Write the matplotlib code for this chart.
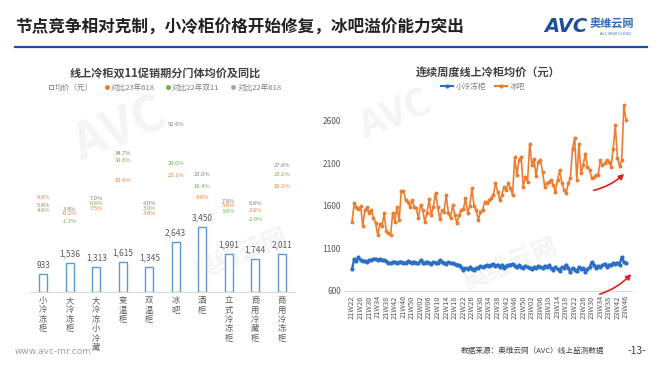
import matplotlib
matplotlib.use("Agg")
import matplotlib.pyplot as plt
from matplotlib.lines import Line2D
import numpy as np

plt.rcParams['font.family'] = ['Noto Sans CJK SC', 'DejaVu Sans']

# ---------------- data ----------------
categories = ['小冷冻柜', '大冷冻柜', '大冷冻小冷藏', '变温柜', '双温柜', '冰吧', '酒柜',
              '立式冷冻柜', '商用冷藏柜', '商用冷冻柜']
avg_price = [933, 1536, 1313, 1615, 1345, 2643, 3450, 1991, 1744, 2011]
pct_vs_23_618 = [9.8, -0.2, 7.5, 19.6, 3.9, 22.1, 9.8, 5.8, 2.8, 16.2]
pct_vs_22_1111 = [4.8, -1.7, 6.8, 30.6, 3.9, 29.0, 16.4, 3.6, -2.0, 23.1]
pct_vs_22_618 = [5.8, 3.4, 7.0, 34.7, 4.0, 50.6, 23.0, 7.8, 6.8, 27.8]

small_freezer = [
    860, 975, 950, 1000, 960, 955, 950, 945, 965, 960, 975, 980, 970, 975, 965, 960,
    950, 935, 925, 945, 940, 930, 940, 945, 935, 930, 950, 940, 935, 945, 930,
    925, 960, 935, 930, 945, 935, 920, 940, 935, 930, 960, 940, 935, 920, 940, 930,
    925, 915, 910, 900, 880, 850, 870, 860, 880, 860, 845, 870, 875, 890, 880, 895,
    900, 890, 910, 915, 895, 910, 880, 905, 870, 895, 900, 910, 920, 890, 880, 900,
    885, 870, 895, 880,
    875, 860, 880, 870, 890, 885, 870, 895, 880, 900, 870, 850, 880, 860, 840, 880,
    870, 910, 870, 820, 870, 850, 830, 880, 860, 870, 820, 860, 880, 940, 900, 870,
    890, 880, 900, 920, 880, 910, 900, 930, 920, 935, 910, 1000, 940, 930]
ice_bar = [
    1416, 1631, 1592, 1560, 1600, 1366, 1553, 1584, 1514, 1550,
    1456, 1400, 1260, 1390, 1366, 1514, 1300, 1280, 1260, 1522,
    1416, 1592, 1436, 1780, 1780, 1670, 1650, 1592, 1670, 1592,
    1573, 1456, 1611, 1553, 1416, 1514, 1678, 1495, 1592, 1756,
    1592, 1444, 1553, 1534, 1729, 1514, 1456, 1611, 1495, 1397,
    1495, 1553, 1561, 1690, 1522, 1600, 1807, 1600, 1553, 1436,
    1534, 1553, 1650, 1631, 1670, 1690, 1729, 1866, 1768, 1670,
    1729, 1827, 1788, 1873, 1807, 1729, 2178, 1963, 2140, 2178,
    1827, 1944, 1885, 2334, 2088, 2148, 1952, 2120, 2147, 2002,
    1827, 1866, 1885, 1905, 1846, 1768, 1905, 2022, 1873, 1788,
    1749, 1866, 1924, 2276, 2405, 1905, 2334, 1983, 2081, 2217,
    2061, 2022, 1924, 1936, 1963, 1963, 2139, 2081, 2100, 2139,
    2120, 2061, 2276, 2549, 2159, 2069, 2139, 2783, 2608]
week_ticks = ['21W22', '21W26', '21W30', '21W34', '21W38', '21W42', '21W46', '21W50',
              '22W02', '22W06', '22W10', '22W14', '22W18', '22W22', '22W26', '22W30',
              '22W34', '22W38', '22W42', '22W46', '22W50', '23W02', '23W06', '23W10',
              '23W14', '23W18', '23W22', '23W26', '23W30', '23W34', '23W38', '23W42',
              '23W46']
y_ticks = [600, 1100, 1600, 2100, 2600]

# ---------------- figure ----------------
W, H = 660, 372
fig = plt.figure(figsize=(W / 100, H / 100), dpi=100)
fig.patch.set_facecolor('white')


def rect(l, t, r, b):
    return [l / W, 1 - b / H, (r - l) / W, (b - t) / H]


def fp(x, y):
    return (x / W, 1 - y / H)


BLUE = '#5B9BD5'
ORANGE = '#ED7D31'
GREEN = '#70AD47'
GREY = '#A5A5A5'
TXT = '#595959'
DARKBLUE = '#1F4E9A'
LINEBLUE = '#2A6EC6'

# faint watermarks (behind the charts)
for (wx, wy, s, fs) in [(120, 130, 'AVC', 36), (240, 255, '奥维云网', 18),
                        (395, 115, 'AVC', 28), (510, 265, '奥维云网', 18)]:
    fig.text(*fp(wx, wy), s, fontsize=fs, fontweight='bold', style='italic',
             color='#F4F4F4', rotation=22, ha='center', va='center', zorder=-5)

# header
fig.text(*fp(15, 28), '节点竞争相对克制，小冷柜价格开始修复，冰吧溢价能力突出',
         fontsize=12, fontweight='bold', color='#222222', va='center', ha='left')
fig.add_artist(Line2D([15 / W, 647 / W], [1 - 47 / H, 1 - 47 / H], color=DARKBLUE, lw=1.6))
fig.text(*fp(544, 27), 'AVC', fontsize=14, fontweight='bold', style='italic',
         color=DARKBLUE, va='center', ha='left', family='DejaVu Sans')
fig.text(*fp(590, 24), '奥维云网', fontsize=8, fontweight='bold', color='#2F6DB5',
         va='center', ha='left')
fig.text(*fp(600, 34), 'ALL VIEW CLOUD', fontsize=2.6, color='#2F6DB5',
         va='center', ha='left', family='DejaVu Sans')

# footer
fig.text(*fp(15, 351), 'www.avc-mr.com', fontsize=6.5, color='#A0A0A0', va='center',
         ha='left', family='DejaVu Sans')
fig.text(*fp(604, 351), '数据来源：奥维云网（AVC）线上监测数据', fontsize=5.5, color='#404040',
         va='center', ha='right')
fig.text(*fp(646, 351), '-13-', fontsize=7.5, color='#404040', va='center', ha='right')

# ---------------- left chart ----------------
axL = fig.add_axes(rect(30, 100, 295, 292))
axL.set_zorder(2)
x = np.arange(len(categories))
axL.bar(x, avg_price, width=0.3, facecolor='white', edgecolor=BLUE, linewidth=1.0)
axL.set_xlim(-0.5, len(categories) - 0.5)
axL.set_ylim(0, 10190)
for i, v in enumerate(avg_price):
    axL.text(i, v + 250, f'{v:,}', ha='center', va='bottom', fontsize=6, color=TXT)
for s in ['top', 'right', 'left']:
    axL.spines[s].set_visible(False)
axL.spines['bottom'].set_color('#D9D9D9')
axL.set_yticks([])
axL.set_xticks(x)
axL.set_xticklabels(['\n'.join(c) for c in categories], fontsize=6, color=TXT,
                    linespacing=1.05, va='top')
axL.tick_params(axis='x', length=0, pad=3)
axL.patch.set_alpha(0)

axP = axL.twinx()
axP.set_zorder(3)
axP.set_ylim(-42.7, 64.5)
axP.axis('off')
# small vertical label nudges (points) to keep close labels legible
nudges = {('g', 0): -2.5, ('o', 1): 2.0, ('g', 1): -2.0,
          ('y', 2): 3.0, ('o', 2): -4.5,
          ('y', 4): 3.5, ('o', 4): -3.5, ('g', 7): -2.0}
for key, series, col in [('o', pct_vs_23_618, ORANGE), ('g', pct_vs_22_1111, GREEN),
                         ('y', pct_vs_22_618, '#7F7F7F')]:
    for i, p in enumerate(series):
        axP.annotate(f'{p:.1f}%', (i, p), xytext=(0, nudges.get((key, i), 0)),
                     textcoords='offset points', ha='center', va='center',
                     fontsize=4.2, color=col)

fig.text(*fp(165, 73), '线上冷柜双11促销期分门体均价及同比', fontsize=8, fontweight='bold',
         color='#404040', ha='center', va='center')
handlesL = [
    Line2D([], [], ls='none', marker='s', mfc='white', mec=BLUE, ms=3.5, mew=0.7),
    Line2D([], [], ls='none', marker='o', color=ORANGE, ms=2.5),
    Line2D([], [], ls='none', marker='o', color=GREEN, ms=2.5),
    Line2D([], [], ls='none', marker='o', color=GREY, ms=2.5),
]
legL = fig.legend(handlesL, ['均价（元）', '对比23年618', '对比22年双11', '对比22年618'],
                  loc='center', bbox_to_anchor=fp(165, 88), ncol=4, fontsize=5.5,
                  frameon=False, handlelength=0.6, handletextpad=0.2, columnspacing=1.5)
for t in legL.get_texts():
    t.set_color('#7F7F7F')

# ---------------- right chart ----------------
axR = fig.add_axes(rect(345, 100, 632, 291))
axR.set_zorder(2)
idx = np.arange(len(ice_bar))
axR.plot(idx, ice_bar, color=ORANGE, lw=1.2, marker='o', ms=1.8, zorder=3)
axR.plot(idx, small_freezer, color=LINEBLUE, lw=1.7, marker='o', ms=2.0, zorder=3)
axR.set_ylim(600, 2847)
axR.set_xlim(-3.3, 130.8)
axR.set_yticks(y_ticks)
axR.set_yticklabels([str(v) for v in y_ticks], fontsize=6, color=TXT)
axR.set_xticks(np.arange(0, len(ice_bar), 4))
axR.set_xticklabels(week_ticks, rotation=90, fontsize=5.4, color=TXT, va='top')
axR.tick_params(axis='both', length=0, pad=3)
for s in ['top', 'right', 'left']:
    axR.spines[s].set_visible(False)
axR.spines['bottom'].set_color('#D9D9D9')
axR.patch.set_alpha(0)

fig.text(*fp(488, 72), '连续周度线上冷柜均价（元）', fontsize=8, fontweight='bold',
         color='#404040', ha='center', va='center')
handlesR = [
    Line2D([], [], color=LINEBLUE, lw=1.5, marker='o', ms=2),
    Line2D([], [], color=ORANGE, lw=1.5, marker='o', ms=2),
]
legR = fig.legend(handlesR, ['小冷冻柜', '冰吧'], loc='center', bbox_to_anchor=fp(483, 87),
                  ncol=2, fontsize=5.5, frameon=False, handlelength=1.6,
                  handletextpad=0.3, columnspacing=1.2)
for t in legR.get_texts():
    t.set_color('#7F7F7F')

# red arrows
for (x0, y0, x1, y1) in [(591, 191, 626, 172), (597, 295, 633, 272)]:
    arr = matplotlib.patches.FancyArrowPatch(
        posA=fp(x0, y0), posB=fp(x1, y1), transform=fig.transFigure,
        arrowstyle='-|>,head_length=3,head_width=1.6', color='#E0201F', lw=1.2,
        connectionstyle='arc3,rad=0.15')
    arr.set_zorder(5)
    fig.add_artist(arr)

fig.savefig('out.png', dpi=100, facecolor='white')
